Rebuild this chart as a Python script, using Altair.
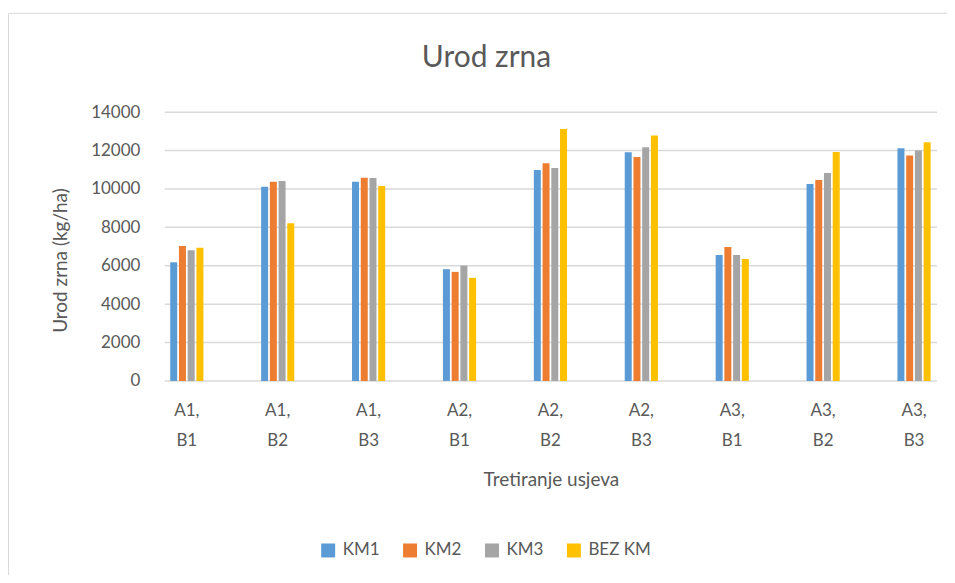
import altair as alt
import pandas as pd

categories = ["A1, B1", "A1, B2", "A1, B3", "A2, B1", "A2, B2", "A2, B3", "A3, B1", "A3, B2", "A3, B3"]
series = ["KM1", "KM2", "KM3", "BEZ KM"]
km1 = [6180, 10120, 10370, 5820, 10990, 11910, 6560, 10260, 12120]
km2 = [7030, 10370, 10590, 5680, 11340, 11670, 6980, 10470, 11740]
km3 = [6810, 10420, 10570, 6010, 11090, 12170, 6560, 10830, 12000]
bez_km = [6940, 8210, 10160, 5370, 13130, 12780, 6350, 11930, 12430]
colors = ["#5B9BD5", "#ED7D31", "#A5A5A5", "#FFC000"]
y_ticks = [0, 2000, 4000, 6000, 8000, 10000, 12000, 14000]
chart_title = "Urod zrna"

rows = []
for s, vals in zip(series, [km1, km2, km3, bez_km]):
    for c, v in zip(categories, vals):
        rows.append({"Tretiranje": c, "Serija": s, "Urod": v})
df = pd.DataFrame(rows)
grid_df = pd.DataFrame({"Urod": y_ticks})

FONT = "Lato"
TXT = "#595959"
W, H = 773, 269

y_scale = alt.Scale(domain=[0, 14000], nice=False)
y_axis = alt.Axis(values=y_ticks, format="d", labelFontSize=17,
                  labelPadding=25, ticks=False, domain=False, grid=False,
                  titleFontSize=19, titlePadding=20, titleY=148)
Y_TITLE = "Urod zrna (kg/ha)"

grid = alt.Chart(grid_df).mark_rule(color="#d9d9d9", strokeWidth=1.5).encode(
    y=alt.Y("Urod:Q", title=Y_TITLE, scale=y_scale, axis=y_axis),
    x=alt.value(0), x2=alt.value(W),
)

bars = alt.Chart(df).mark_bar().encode(
    x=alt.X("Tretiranje:N", sort=categories, title="Tretiranje usjeva",
            scale=alt.Scale(range=[-23.5, 795.5], paddingInner=0.635, paddingOuter=0.3175),
            axis=alt.Axis(labelAngle=0, labelExpr="split(datum.label, ' ')",
                          labelLineHeight=30, labelPadding=22, labelFontSize=17,
                          domain=False, ticks=False, grid=False,
                          titleFontSize=19, titlePadding=22, titleX=386.5)),
    xOffset=alt.XOffset("Serija:N", sort=series,
                        scale=alt.Scale(paddingInner=0.2, paddingOuter=0)),
    y=alt.Y("Urod:Q", title=Y_TITLE, scale=y_scale, axis=y_axis),
    color=alt.Color("Serija:N", sort=series,
                    scale=alt.Scale(domain=series, range=colors),
                    legend=alt.Legend(title=None, orient="none", legendX=155, legendY=430,
                                      direction="horizontal", symbolType="square",
                                      symbolSize=196, symbolStrokeWidth=0,
                                      labelFontSize=17, labelColor=TXT, labelFont=FONT,
                                      labelOffset=6, columnPadding=22)),
)

frame = alt.Chart(alt.Data(values=[{"a": 1}])).mark_rect(
    fillOpacity=0, stroke="#d9d9d9", strokeWidth=1
).encode(
    x=alt.value(-156.5), x2=alt.value(787), y=alt.value(-99), y2=alt.value(480)
)

title_mark = alt.Chart(alt.Data(values=[{"t": chart_title}])).mark_text(
    font=FONT, fontSize=30, color=TXT, align="center", baseline="middle"
).encode(
    text="t:N", x=alt.value(322), y=alt.value(-54)
)

chart = alt.layer(frame, title_mark, grid, bars).properties(
    width=W, height=H,
    autosize=alt.AutoSizeParams(type="none"),
    padding={"left": 157, "top": 104, "right": 10, "bottom": 194},
).configure_view(stroke=None).configure_axis(
    labelFont=FONT, titleFont=FONT, labelColor=TXT, titleColor=TXT,
    titleFontWeight="normal"
)

chart.save("out.html", embed_options={"renderer": "svg", "actions": False})
